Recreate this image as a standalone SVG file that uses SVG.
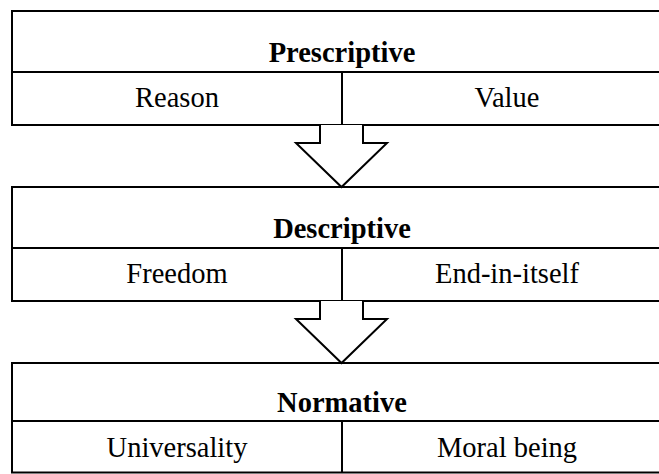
<svg xmlns="http://www.w3.org/2000/svg" width="659" height="474" viewBox="0 0 659 474">
<style>
.box{fill:#fff;stroke:#000;stroke-width:2}
.ln{stroke:#000;stroke-width:2;fill:none}
.arr{fill:#fff;stroke:#000;stroke-width:2;stroke-linejoin:miter}
text{font-size:28.5px;text-anchor:middle;fill:#000}
.b{font-weight:bold}
</style>
<rect width="659" height="474" fill="#fff"/>
<g id="prescriptive" font-family="'Liberation Serif', 'Times New Roman', Times, serif">
<rect class="box" x="12" y="11" width="660" height="114"/>
<line class="ln" x1="12" y1="72" x2="672" y2="72"/>
<line class="ln" x1="342" y1="72" x2="342" y2="125"/>
<text class="b" x="342" y="62">Prescriptive</text>
<text x="177" y="107">Reason</text>
<text x="507" y="107">Value</text>
</g>
<g id="descriptive" font-family="'Liberation Serif', 'Times New Roman', Times, serif">
<rect class="box" x="12" y="187" width="660" height="114"/>
<line class="ln" x1="12" y1="248" x2="672" y2="248"/>
<line class="ln" x1="342" y1="248" x2="342" y2="301"/>
<text class="b" x="342" y="238">Descriptive</text>
<text x="177" y="283">Freedom</text>
<text x="507" y="283">End-in-itself</text>
</g>
<g id="normative" font-family="'Liberation Serif', 'Times New Roman', Times, serif">
<rect class="box" x="12" y="363" width="660" height="109.5"/>
<line class="ln" x1="12" y1="421" x2="672" y2="421"/>
<line class="ln" x1="342" y1="421" x2="342" y2="472.5"/>
<text class="b" x="342" y="412">Normative</text>
<text x="177" y="457">Universality</text>
<text x="507" y="457">Moral being</text>
</g>
<g id="connectors">
<path class="arr" d="M320,125 V143 H296 L341.5,187 L387,143 H363 V125"/>
<path class="arr" d="M320,301 V319 H296 L341.5,363 L387,319 H363 V301"/>
</g>
</svg>
